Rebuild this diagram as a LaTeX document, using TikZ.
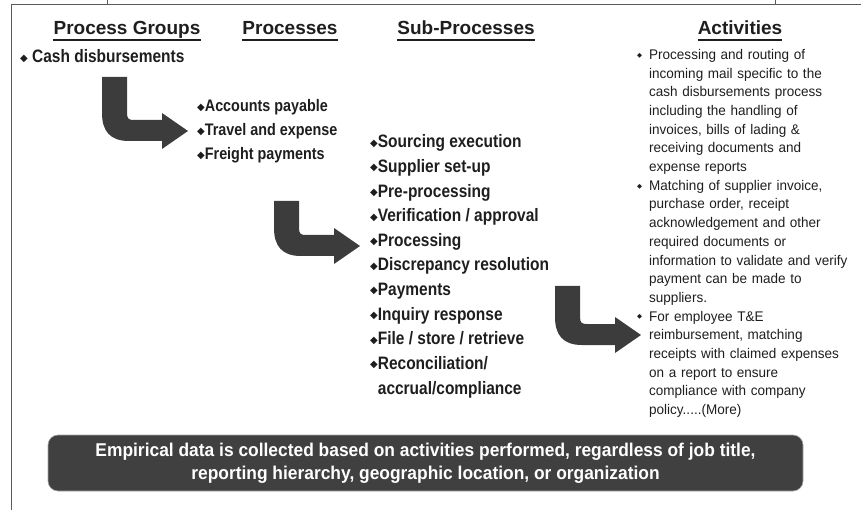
\documentclass[tikz,border=0pt]{standalone}
\usepackage{fontspec}
\setmainfont{Liberation Sans}
\newfontfamily\hdrfont{Liberation Sans}
\newfontfamily\narfont{Liberation Sans}[FakeStretch=0.86]
\newfontfamily\actfont{Liberation Sans}[FakeStretch=0.965]
\newfontfamily\notefont{Liberation Sans}[FakeStretch=0.94]
\newfontfamily\symfont{DejaVu Sans}
\definecolor{ink}{HTML}{1E1E1E}
\definecolor{arrowgray}{HTML}{3C3C3C}
\definecolor{boxgray}{HTML}{404040}
\definecolor{framegray}{HTML}{5A5A5A}
\newcommand\dmd{\raisebox{1.6pt}{\symfont\fontsize{10}{10}\selectfont ◆}}
\newcommand\smalldmd{\raisebox{2.2pt}{\symfont\fontsize{6.5}{6.5}\selectfont ◆}}
\newcommand\bentarrow[3]{%
  \fill[arrowgray] (#1,#2) -- (#1+25,#2) -- (#1+25,#3-18)
    .. controls (#1+25,#3-12) and (#1+27,#3-11) .. (#1+32,#3-11)
    -- (#1+60,#3-11) -- (#1+60,#3-18) -- (#1+86,#3) -- (#1+60,#3+18)
    -- (#1+60,#3+10) -- (#1+27,#3+10)
    .. controls (#1+8,#3+10) and (#1,#3) .. (#1,#3-18) -- cycle;}
\tikzset{
  hdr/.style={font=\hdrfont\bfseries\fontsize{19}{19}\selectfont, text=ink, anchor=base, inner sep=0pt},
  uline/.style={draw=ink, line width=1.6pt},
  grp/.style={font=\narfont\bfseries\fontsize{18}{18}\selectfont, text=ink, anchor=base west, inner sep=0pt},
  proc/.style={font=\narfont\bfseries\fontsize{16.7}{16.7}\selectfont, text=ink, anchor=base west, inner sep=0pt},
  sub/.style={font=\narfont\bfseries\fontsize{18}{24.6}\selectfont, text=ink, anchor=base west, inner sep=0pt, align=left},
  act/.style={font=\actfont\fontsize{14}{18.68}\selectfont, text=ink, anchor=base west, inner sep=0pt, text width=225pt, align=left},
  abul/.style={text=ink, anchor=base west, inner sep=0pt},
  notebox/.style={fill=boxgray, draw=gray!70, line width=0.6pt, rounded corners=10pt, minimum width=755pt, minimum height=56pt, inner sep=0pt},
  notetext/.style={font=\notefont\bfseries\fontsize{18.5}{23}\selectfont, text=white, align=center, inner sep=0pt},
  frame/.style={draw=framegray, line width=1.5pt}
}
\begin{document}
\begin{tikzpicture}[x=1pt,y=-1pt]
\useasboundingbox (0,0) rectangle (861,510);
% frame
\coordinate (fl) at (11.5,510);
\coordinate (fc) at (11.5,4.5);
\coordinate (fr) at (861,4.5);
\draw[frame] (fl) -- (fc) -- (fr);
\coordinate (t1a) at (107,0); \coordinate (t1b) at (107,4);
\coordinate (t2a) at (775,0); \coordinate (t2b) at (775,4);
\draw[framegray, line width=0.8pt] (t1a) -- (t1b) (t2a) -- (t2b);
% headers
\node[hdr] (h1) at (127,35) {Process Groups};
\node[hdr] (h2) at (290,35) {Processes};
\node[hdr] (h3) at (466,35) {Sub-Processes};
\node[hdr] (h4) at (740,35) {Activities};
\foreach \h in {h1,h2,h3,h4}
  \draw[uline] ([yshift=-5pt]\h.base west) -- ([yshift=-5pt]\h.base east);
% process group
\node[grp] (g1) at (20,63) {\dmd\ Cash disbursements};
% processes
\node[proc] (p1) at (197,112) {\dmd Accounts payable};
\node[proc] (p2) at (197,136) {\dmd Travel and expense};
\node[proc] (p3) at (197,160) {\dmd Freight payments};
% sub-processes
\node[sub] (s1) at (370,148) {\dmd Sourcing execution};
\node[sub] (s2) at (370,172.6) {\dmd Supplier set-up};
\node[sub] (s3) at (370,197.2) {\dmd Pre-processing};
\node[sub] (s4) at (370,221.8) {\dmd Verification / approval};
\node[sub] (s5) at (370,246.4) {\dmd Processing};
\node[sub] (s6) at (370,271) {\dmd Discrepancy resolution};
\node[sub] (s7) at (370,295.6) {\dmd Payments};
\node[sub] (s8) at (370,320.2) {\dmd Inquiry response};
\node[sub] (s9) at (370,344.8) {\dmd File / store / retrieve};
\node[sub] (s10) at (370,394) {\dmd Reconciliation/\\\hphantom{\dmd}accrual/compliance};
% activities
\node[abul] (b1) at (637,59.5) {\smalldmd};
\node[act] (a1) at (649,59.5) {Processing and routing of\\incoming mail specific to the\\cash disbursements process\\including the handling of\\invoices, bills of lading \&\\receiving documents and\\expense reports};
\node[abul] (b2) at (637,190.3) {\smalldmd};
\node[act] (a2) at (649,190.3) {Matching of supplier invoice,\\purchase order, receipt\\acknowledgement and other\\required documents or\\information to validate and verify\\payment can be made to\\suppliers.};
\node[abul] (b3) at (637,321) {\smalldmd};
\node[act] (a3) at (649,321) {For employee T\&E\\reimbursement, matching\\receipts with claimed expenses\\on a report to ensure\\compliance with company\\policy.....(More)};
% arrows
\bentarrow{102}{77}{131}
\bentarrow{274}{201}{246}
\bentarrow{555}{286}{335}
% bottom note
\node[notebox] (nb) at (425.5,463) {};
\node[notetext] (nt) at (425.5,463) {Empirical data is collected based on activities performed, regardless of job title,\\reporting hierarchy, geographic location, or organization};
\end{tikzpicture}
\end{document}
